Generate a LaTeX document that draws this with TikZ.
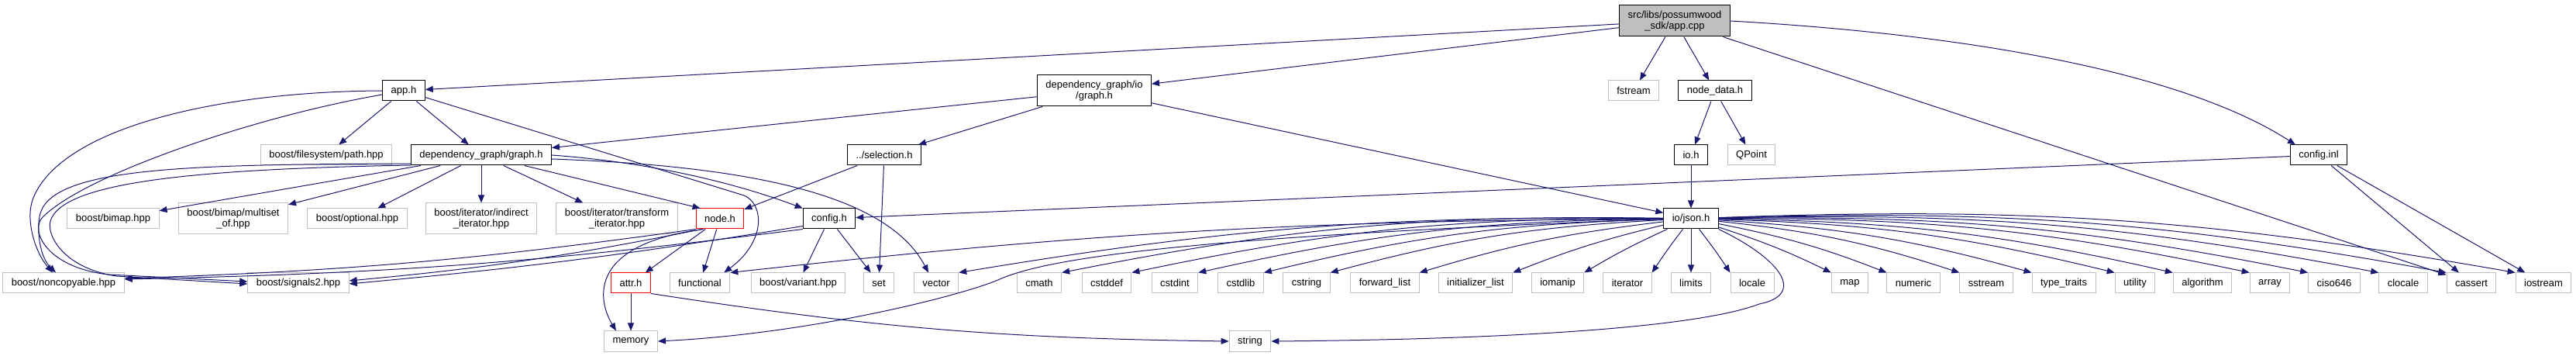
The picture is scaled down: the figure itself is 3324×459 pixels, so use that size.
\documentclass[tikz,border=0pt]{standalone}
\usepackage{fontspec}
\setmainfont{Liberation Sans}
\usetikzlibrary{arrows.meta}
\definecolor{edgeblue}{HTML}{191970}
\definecolor{boxgray}{HTML}{BFBFBF}

\begin{document}
\begin{tikzpicture}[
    x=0.5pt,
    y=-0.5pt,
    >={Triangle[length=5pt, width=4pt]},
    file/.style={draw=black, fill=white, line width=0.5pt, inner xsep=5.5pt, inner ysep=1.5pt,
        minimum height=13pt, align=center, font=\fontsize{6.5}{7}\selectfont},
    ext/.style={file, draw=boxgray},
    trunc/.style={file, draw=red},
    twoline/.style={minimum height=20pt},
    dep/.style={->, draw=edgeblue, line width=0.5pt}
]
    \useasboundingbox (0,0) rectangle (3324,459);
    \node[file, fill=boxgray, twoline] (appcpp) at (2161,27) {src/libs/possumwood\\\_sdk/app.cpp};
    \node[file] (apph) at (521,117) {app.h};
    \node[file, twoline] (iograph) at (1412,117) {dependency\_graph/io\\/graph.h};
    \node[ext] (fstream) at (2108,117) {fstream};
    \node[file] (nodedata) at (2213,117) {node\_data.h};
    \node[ext] (pathhpp) at (421,200) {boost/filesystem/path.hpp};
    \node[file] (graphh) at (621,200) {dependency\_graph/graph.h};
    \node[file] (selection) at (1141,200) {../selection.h};
    \node[file] (ioh) at (2182,200) {io.h};
    \node[ext] (qpoint) at (2260,200) {QPoint};
    \node[file] (configinl) at (2992,200) {config.inl};
    \node[ext] (bimap) at (146,282) {boost/bimap.hpp};
    \node[ext, twoline] (multiset) at (301,282) {boost/bimap/multiset\\\_of.hpp};
    \node[ext] (optional) at (461,282) {boost/optional.hpp};
    \node[ext, twoline] (indirect) at (621,282) {boost/iterator/indirect\\\_iterator.hpp};
    \node[ext, twoline] (transform) at (796,282) {boost/iterator/transform\\\_iterator.hpp};
    \node[trunc] (nodeh) at (929,282) {node.h};
    \node[file] (configh) at (1070,282) {config.h};
    \node[file] (json) at (2182,282) {io/json.h};
    \node[ext] (noncopy) at (82,365) {boost/noncopyable.hpp};
    \node[ext] (signals) at (385,365) {boost/signals2.hpp};
    \node[trunc] (attrh) at (814,365) {attr.h};
    \node[ext] (variant) at (1030,365) {boost/variant.hpp};
    \foreach \n/\x/\t in {functional/903/functional, set/1134/set, vector/1208/vector,
        cmath/1341/cmath, cstddef/1428/cstddef, cstdint/1516/cstdint, cstdlib/1601/cstdlib,
        cstring/1686/cstring, fwdlist/1787/forward\_list, initlist/1904/initializer\_list,
        iomanip/2010/iomanip, iterator/2100/iterator, limits/2182/limits, locale/2261/locale,
        map/2387/map, numeric/2469/numeric, sstream/2563/sstream, typetraits/2663/type\_traits,
        utility/2755/utility, algorithm/2842/algorithm, array/2929/array, ciso/3012/ciso646,
        clocale/3101/clocale, cassert/3189/cassert, iostream/3282/iostream}
        \node[ext] (\n) at (\x,365) {\t};
    \node[ext] (memory) at (814,440) {memory};
    \node[ext] (string) at (1613,440) {string};

    \foreach \t in {apph, iograph, fstream, nodedata, cassert}
        \draw[dep] (appcpp) -- (\t);
    \draw[dep] (appcpp.east) .. controls (2550,45) and (2820,95) .. ([xshift=3.5pt]configinl.north west);
    \draw[dep] (apph) -- (pathhpp);
    \draw[dep] (apph) -- (graphh);
    \draw[dep] (apph.west) .. controls (280,118) and (80,165) .. (43,255)
        .. controls (32,282) and (45,325) .. ([xshift=-7pt]noncopy.north);
    \draw[dep] ([yshift=-2.5pt]apph.west) .. controls (330,150) and (110,225) .. (55,280)
        .. controls (38,297) and (60,345) .. (140,354) -- ([yshift=1pt]signals.west);
    \draw[dep] (apph) -- (960,252) .. controls (985,262) and (990,310) .. ([xshift=-4pt]functional.north east);
    \foreach \t in {bimap, multiset, optional, indirect, transform}
        \draw[dep] (graphh) -- (\t);
    \draw[dep] ([yshift=-5.5pt]graphh.west) .. controls (250,212) and (70,215) .. (52,275)
        .. controls (47,292) and (50,330) .. ([xshift=-5pt]noncopy.north);
    \draw[dep] ([yshift=-6.5pt]graphh.west) .. controls (250,218) and (80,235) .. (65,285)
        .. controls (60,302) and (80,345) .. (150,356) -- ([yshift=-0.5pt]signals.west);
    \draw[dep] (graphh) -- ([xshift=3pt]nodeh.north west);
    \draw[dep] (graphh.east) .. controls (850,210) and (960,240) .. (configh.north west);
    \draw[dep] ([yshift=-2.5pt]graphh.east) .. controls (1000,215) and (1150,260) .. ([xshift=-5pt]vector.north);
    \draw[dep] (iograph) -- (graphh);
    \draw[dep] (iograph) -- (selection);
    \draw[dep] (iograph) -- (json);
    \draw[dep] (selection) -- (nodeh);
    \draw[dep] (selection) -- (set);
    \draw[dep] (nodeh) -- (attrh);
    \draw[dep] (nodeh) -- (functional);
    \draw[dep] ([xshift=5pt]nodeh.south west) .. controls (760,315) and (770,385) .. ([xshift=-9.5pt]memory.north);
    \draw[dep] (nodeh.south west) to[bend left=3] ([yshift=3pt]noncopy.east);
    \draw[dep] ([xshift=4pt]nodeh.south west) to[bend left=3] ([yshift=1.5pt]signals.east);
    \draw[dep] (configh.south west) to[bend left=3] ([yshift=2.5pt]noncopy.east);
    \draw[dep] ([yshift=2pt]configh.south west) to[bend left=2] ([yshift=-0.5pt]signals.east);
    \draw[dep] (configh) -- (variant);
    \draw[dep] (configh) -- (set);
    \draw[dep] (attrh) -- (memory);
    \draw[dep] (attrh.south east) to[bend right=4] (string.west);
    \draw[dep] (nodedata) -- (ioh);
    \draw[dep] (nodedata) -- (qpoint);
    \draw[dep] (ioh) -- (json);
    \draw[dep] (configinl) -- (configh);
    \draw[dep] (configinl) -- (cassert);
    \draw[dep] (configinl) -- (iostream);
    \foreach \t/\b in {functional/3, vector/5, cmath/6, cstddef/6, cstdint/6, cstdlib/6,
        cstring/6, fwdlist/5, initlist/4, iomanip/3, iterator/2}
        \draw[dep] (json) to[bend right=\b] (\t.north east);
    \draw[dep] (json) -- (limits);
    \foreach \t/\b in {locale/2, map/4, numeric/5, sstream/6, typetraits/6, utility/6,
        algorithm/6, array/6, ciso/6, clocale/6, cassert/6, iostream/6}
        \draw[dep] (json) to[bend left=\b] (\t.north west);
    \draw[dep] (json.west) .. controls (1700,300) and (1380,320) .. (1290,360)
        .. controls (1245,380) and (1050,430) .. (memory.east);
    \draw[dep] (json.south east) .. controls (2300,335) and (2330,380) .. (2270,392)
        .. controls (2180,426) and (1900,438) .. (string.east);
\end{tikzpicture}
\end{document}
